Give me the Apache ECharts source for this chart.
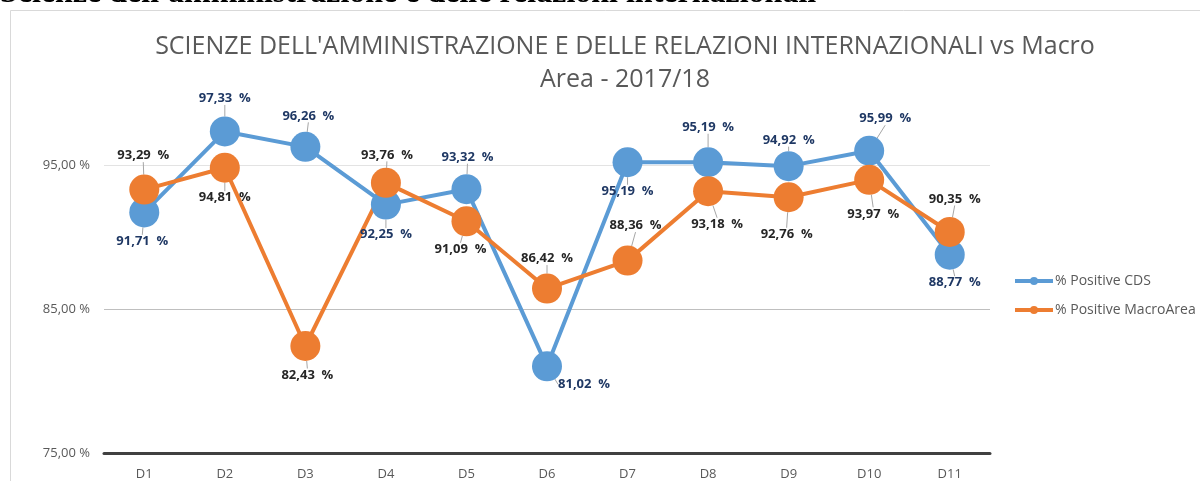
<!DOCTYPE html>
<html>
<head>
<meta charset="utf-8">
<script src="https://cdn.jsdelivr.net/npm/echarts@6/dist/echarts.min.js"></script>
<style>
  html, body { margin: 0; padding: 0; background: #fff; }
  #chart { width: 1200px; height: 481px; }
</style>
</head>
<body>
<div id="chart"></div>
<script>
// data
const categories = ['D1', 'D2', 'D3', 'D4', 'D5', 'D6', 'D7', 'D8', 'D9', 'D10', 'D11']
const cdsValues = [91.71, 97.33, 96.26, 92.25, 93.32, 81.02, 95.19, 95.19, 94.92, 95.99, 88.77]
const macroValues = [93.29, 94.81, 82.43, 93.76, 91.09, 86.42, 88.36, 93.18, 92.76, 93.97, 90.35]
const seriesNames = ['% Positive CDS', '% Positive MacroArea']
const yTicks = [75, 85, 95]

// label offsets (from marker centre), like the hand placed excel labels
const cdsLabelPos = [[-2, 29], [0, -33], [3, -31], [0, 30], [1, -32], [37, 18], [0, 29], [0, -35], [0, -26], [16, -32], [5, 28]]
const macroLabelPos = [[-1, -34], [0, 30], [2, 29], [1, -28], [-6, 28], [0, -30], [8, -35], [9, 33], [-2, 37], [4, 34], [5, -33]]

const fmt = v => v.toFixed(2).replace('.', ',') + '  %'

function lineSeries(name, values, color, labelColor, offsets) {
  return {
    name: name,
    type: 'line',
    data: values,
    symbol: 'circle',
    symbolSize: 30,
    lineStyle: { color: color, width: 4 },
    itemStyle: { color: color },
    label: {
      show: true,
      position: 'inside',
      color: labelColor,
      fontFamily: 'Open Sans',
      fontWeight: 'bold',
      fontSize: 13,
      formatter: p => fmt(p.value)
    },
    labelLine: {
      show: true,
      lineStyle: { color: '#a6a6a6', width: 1 }
    },
    labelLayout: p => ({ dx: offsets[p.dataIndex][0], dy: offsets[p.dataIndex][1] }),
    emphasis: { disabled: true },
    animation: false
  }
}

const chart = echarts.init(document.getElementById('chart'))
chart.setOption({
  backgroundColor: '#fff',
  title: {
    text: "SCIENZE DELL'AMMINISTRAZIONE E DELLE RELAZIONI INTERNAZIONALI vs Macro\nArea - 2017/18",
    left: 620,
    top: 25,
    textAlign: 'center',
    textStyle: {
      fontFamily: 'Open Sans',
      fontWeight: 'normal',
      fontSize: 25,
      color: '#595959',
      lineHeight: 33
    }
  },
  graphic: [
    {
      type: 'text',
      left: 0,
      top: -22,
      style: {
        text: "Scienze dell'amministrazione e delle relazioni internazionali",
        font: 'bold 32px "Liberation Serif"',
        fill: '#000'
      }
    },
    {
      type: 'rect',
      shape: { x: 10.5, y: 10.5, width: 1300, height: 600 },
      style: { fill: null, stroke: '#d9d9d9', lineWidth: 1 },
      silent: true
    }
  ],
  legend: {
    orient: 'vertical',
    left: 1008,
    top: 269,
    itemWidth: 38,
    itemHeight: 10,
    itemGap: 15,
    data: seriesNames,
    lineStyle: { width: 4 },
    textStyle: { fontFamily: 'Open Sans', fontSize: 14, color: '#595959', padding: [0, 0, 0, -3] }
  },
  grid: { left: 104, right: 210, top: 93, bottom: 21 },
  xAxis: {
    type: 'category',
    data: categories,
    axisLine: { lineStyle: { color: '#404040', width: 3 } },
    axisTick: { show: false },
    axisLabel: { fontFamily: 'Open Sans', fontSize: 13, color: '#595959', margin: 15 }
  },
  yAxis: {
    type: 'value',
    min: 75,
    max: 100,
    interval: 10,
    axisLine: { show: false },
    axisTick: { show: false },
    axisLabel: {
      fontFamily: 'Open Sans',
      fontSize: 13,
      color: '#595959',
      margin: 14,
      showMaxLabel: false,
      formatter: v => (yTicks.indexOf(v) >= 0 ? v.toFixed(2).replace('.', ',') + ' %' : '')
    },
    splitLine: { showMaxLine: false, lineStyle: { color: ['#d9d9d9', '#bfbfbf', '#e3e3e3'], width: 1 } }
  },
  series: [
    lineSeries(seriesNames[0], cdsValues, '#5b9bd5', '#1f3864', cdsLabelPos),
    lineSeries(seriesNames[1], macroValues, '#ed7d31', '#262626', macroLabelPos)
  ]
})
</script>
</body>
</html>
